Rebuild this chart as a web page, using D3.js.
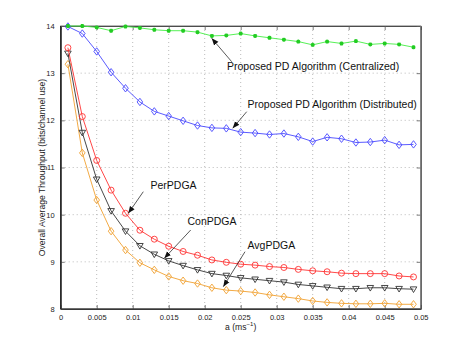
<!DOCTYPE html>
<html><head><meta charset="utf-8">
<script src="https://cdn.jsdelivr.net/npm/d3@7"></script>
<style>body{margin:0;background:#fff}svg{display:block}text{font-family:"Liberation Sans",Arial,sans-serif}</style>
</head><body><svg id="c" width="465" height="348"></svg>
<script>
const aValues = [0.001,0.003,0.005,0.007,0.009,0.011,0.013,0.015,0.017,0.019,0.021,0.023,0.025,0.027,0.029,0.031,0.033,0.035,0.037,0.039,0.041,0.043,0.045,0.047,0.049];
const centralized = [14.0,14.0,13.97,13.90,13.99,13.96,13.92,13.90,13.90,13.87,13.79,13.80,13.84,13.79,13.75,13.71,13.67,13.60,13.67,13.63,13.68,13.61,13.63,13.61,13.55];
const distributed = [13.99,13.84,13.46,13.02,12.68,12.39,12.19,12.09,11.99,11.89,11.84,11.83,11.75,11.73,11.70,11.72,11.65,11.55,11.64,11.61,11.53,11.54,11.58,11.48,11.49];
const perPDGA = [13.54,12.08,11.15,10.52,10.03,9.67,9.48,9.33,9.22,9.14,9.04,8.99,8.95,8.93,8.90,8.88,8.84,8.81,8.79,8.76,8.75,8.75,8.75,8.70,8.68];
const conPDGA = [13.42,11.74,10.75,10.08,9.65,9.34,9.16,9.02,8.92,8.83,8.75,8.71,8.66,8.63,8.60,8.57,8.52,8.49,8.46,8.43,8.43,8.45,8.45,8.43,8.42];
const avgPDGA = [13.19,11.31,10.31,9.65,9.25,8.98,8.83,8.69,8.60,8.54,8.45,8.40,8.38,8.35,8.30,8.26,8.22,8.17,8.14,8.12,8.11,8.11,8.12,8.10,8.10];
const xTicks = [0,0.005,0.01,0.015,0.02,0.025,0.03,0.035,0.04,0.045,0.05];
const xTickLabels = ["0","0.005","0.01","0.015","0.02","0.025","0.03","0.035","0.04","0.045","0.05"];
const yTicks = [8,9,10,11,12,13,14];
const yLabel = "Overall Average Throughput (bits/channel use)";

const svg = d3.select("#c");
const L=60.7, R=420.7, T=26, B=309;
const x = d3.scaleLinear().domain([0,0.05]).range([L,R]);
const y = d3.scaleLinear().domain([8,14]).range([B,T]);

// grid
const g = svg.append("g");
g.selectAll(".gx").data(xTicks.slice(1,-1)).join("line")
  .attr("x1",d=>x(d)).attr("x2",d=>x(d)).attr("y1",T).attr("y2",B)
  .attr("stroke","#aaa").attr("stroke-width",0.8).attr("stroke-dasharray","1,3");
g.selectAll(".gy").data(yTicks.slice(1,-1)).join("line")
  .attr("y1",d=>y(d)).attr("y2",d=>y(d)).attr("x1",L).attr("x2",R)
  .attr("stroke","#aaa").attr("stroke-width",0.8).attr("stroke-dasharray","1,3");

// axes
const fmtX = (d,i)=>xTickLabels[i];
const axB = svg.append("g").attr("transform",`translate(0,${B})`)
  .call(d3.axisBottom(x).tickValues(xTicks).tickFormat(fmtX).tickSizeInner(-4).tickSizeOuter(0).tickPadding(6));
const axT = svg.append("g").attr("transform",`translate(0,${T})`)
  .call(d3.axisTop(x).tickValues(xTicks).tickFormat("").tickSizeInner(-4).tickSizeOuter(0));
const axL = svg.append("g").attr("transform",`translate(${L},0)`)
  .call(d3.axisLeft(y).tickValues(yTicks).tickFormat(d3.format("d")).tickSizeInner(-4).tickSizeOuter(0).tickPadding(6));
const axR = svg.append("g").attr("transform",`translate(${R},0)`)
  .call(d3.axisRight(y).tickValues(yTicks).tickFormat("").tickSizeInner(-4).tickSizeOuter(0));
[axB,axT,axL,axR].forEach(a=>{
  a.selectAll("path").attr("stroke","#222").attr("stroke-width",1);
  a.selectAll("line").attr("stroke","#444").attr("stroke-width",0.7);
  a.selectAll("text").attr("font-size",7.5).attr("fill","#222").attr("font-family","Liberation Sans, Arial, sans-serif");
});
// frame edges
svg.append("rect").attr("x",L).attr("y",T).attr("width",R-L).attr("height",B-T)
  .attr("fill","none").attr("stroke","#777").attr("stroke-width",1);
svg.append("line").attr("x1",L).attr("x2",R).attr("y1",B).attr("y2",B).attr("stroke","#222").attr("stroke-width",1.2);
svg.append("line").attr("x1",L).attr("x2",L).attr("y1",T).attr("y2",B).attr("stroke","#222").attr("stroke-width",1.2);

// labels
svg.append("text").attr("transform",`translate(43,${(T+B)/2}) rotate(-90)`)
  .attr("text-anchor","middle").attr("dominant-baseline","middle").attr("font-size",8.6).attr("fill","#222").text(yLabel);
const xl = svg.append("text").attr("x",(L+R)/2).attr("y",330).attr("text-anchor","middle").attr("font-size",8.6).attr("fill","#222");
xl.append("tspan").text("a (ms");
xl.append("tspan").attr("dy",-4).attr("font-size",6).text("\u22121");
xl.append("tspan").attr("dy",4).text(")");

const line = d3.line().x(d=>x(d[0])).y(d=>y(d[1]));
const series = [
  {v:avgPDGA, c:"#f0a030", m:"diamond"},
  {v:conPDGA, c:"#333333", m:"tri"},
  {v:perPDGA, c:"#ff3333", m:"circle"},
  {v:distributed, c:"#4848ff", m:"diamond"},
  {v:centralized, c:"#44ee44", m:"star"}
];
series.forEach(s=>{
  const pts = aValues.map((a,i)=>[a,s.v[i]]);
  svg.append("path").datum(pts).attr("d",line).attr("fill","none").attr("stroke",s.c).attr("stroke-width",0.9);
  const mg = svg.append("g");
  pts.forEach(p=>{
    const px=x(p[0]), py=y(p[1]);
    if(s.m==="circle"){
      mg.append("circle").attr("cx",px).attr("cy",py).attr("r",3).attr("fill","none").attr("stroke",s.c).attr("stroke-width",0.9);
    } else if(s.m==="diamond"){
      mg.append("path").attr("d",`M${px},${py-3.7}L${px+2.8},${py}L${px},${py+3.7}L${px-2.8},${py}Z`).attr("fill","none").attr("stroke",s.c).attr("stroke-width",0.9);
    } else if(s.m==="tri"){
      mg.append("path").attr("d",`M${px-3.3},${py-2.3}L${px+3.3},${py-2.3}L${px},${py+3.3}Z`).attr("fill","none").attr("stroke",s.c).attr("stroke-width",0.9);
    } else {
      mg.append("path").attr("d",`M${px-2},${py}L${px+2},${py}M${px},${py-2}L${px},${py+2}M${px-1.5},${py-1.5}L${px+1.5},${py+1.5}M${px-1.5},${py+1.5}L${px+1.5},${py-1.5}`)
        .attr("stroke","#22cc22").attr("stroke-width",1.2);
    }
  });
});

// annotations
svg.append("defs").append("marker").attr("id","ah").attr("viewBox","0 0 10 10").attr("refX",10).attr("refY",5)
  .attr("markerWidth",7).attr("markerHeight",7).attr("orient","auto").attr("markerUnits","userSpaceOnUse")
  .append("path").attr("d","M0,1L10,5L0,9Z").attr("fill","#111");
const notes = [
  {t:"Proposed PD Algorithm (Centralized)", tx:227, ty:67, x1:231.7,y1:61.7,x2:211.7,y2:38.3},
  {t:"Proposed PD Algorithm (Distributed)", tx:247.5, ty:105, x1:246.7,y1:111.7,x2:232.7,y2:128.3},
  {t:"PerPDGA", tx:150.5, ty:186, x1:143.3,y1:191.7,x2:128.3,y2:213.3},
  {t:"ConPDGA", tx:187.5, ty:222.5, x1:190.7,y1:230,x2:164.3,y2:258.3},
  {t:"AvgPDGA", tx:247.5, ty:246.5, x1:245,y1:251.7,x2:223.3,y2:286.7}
];
notes.forEach(n=>{
  svg.append("line").attr("x1",n.x1).attr("y1",n.y1).attr("x2",n.x2).attr("y2",n.y2)
    .attr("stroke","#111").attr("stroke-width",0.7).attr("marker-end","url(#ah)");
  svg.append("text").attr("x",n.tx).attr("y",n.ty).attr("dominant-baseline","middle")
    .attr("font-size",10.5).attr("fill","#111").text(n.t);
});
</script></body></html>
